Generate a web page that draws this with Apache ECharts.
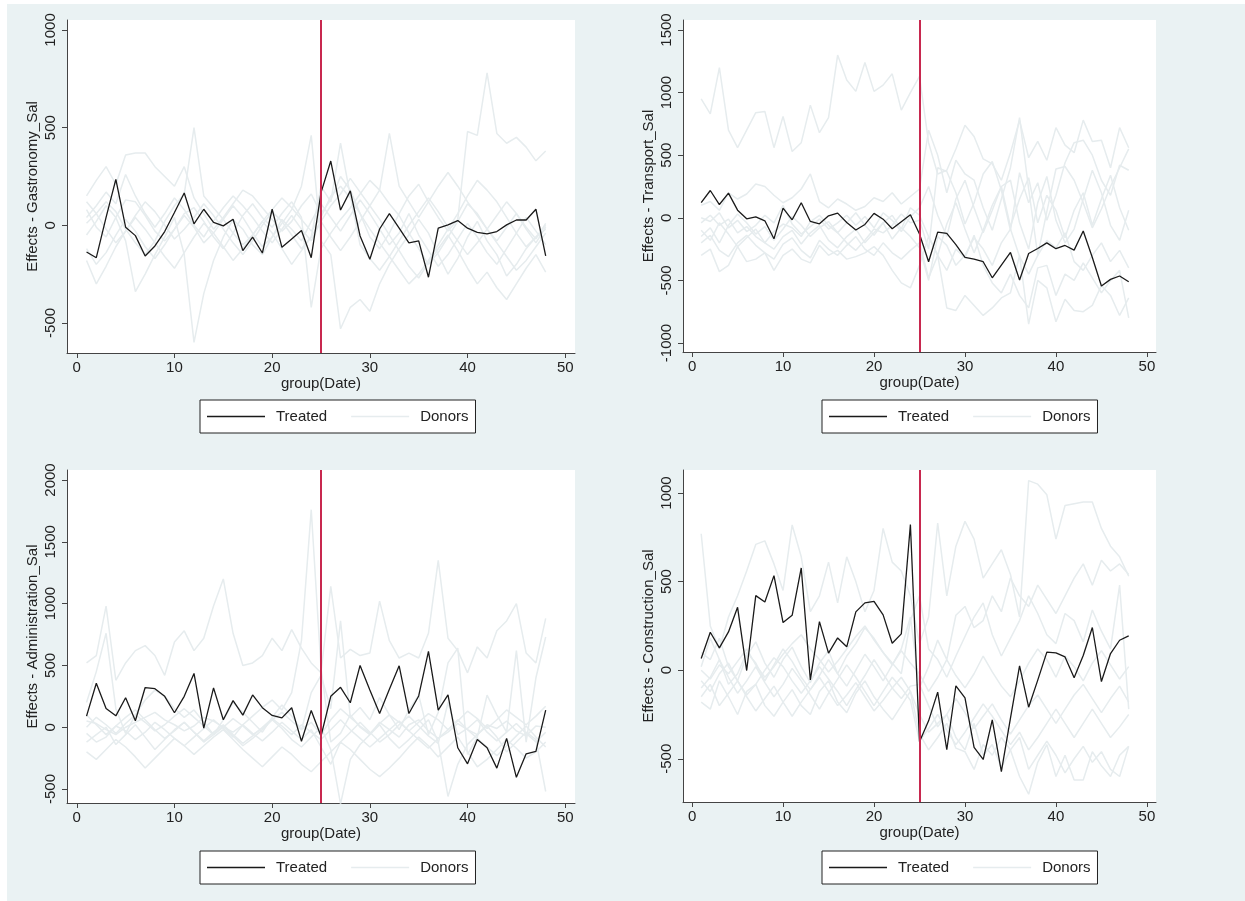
<!DOCTYPE html>
<html>
<head>
<meta charset="UTF-8">
<title>Effects - Treated vs Donors</title>
<script src="https://cdn.jsdelivr.net/npm/echarts@6/dist/echarts.min.js" type="text/javascript"></script>
<style type="text/css">
    html,body{
        margin:0;
        padding:0;
        height:100%;
        background:#fff;
    }
</style>
</head>
<body>
<div id="container" style="width:1245px;height:901px"></div>
<script type="text/javascript">

	// x = group(Date), 1..48
	var dates = [];
	for (var i = 1; i <= 48; i++) dates.push(i);
	var xTicks = [0, 10, 20, 30, 40, 50];

	// --- Gastronomy ---
	var gastroTreated = [-137,-166,40,235,-10,-53,-157,-106,-32,65,165,7,82,15,-3,31,-130,-61,-142,82,-113,-70,-27,-166,167,329,78,176,-55,-174,-19,60,-15,-90,-80,-266,-15,2,24,-15,-36,-44,-32,2,27,27,82,-157];
	var gastroDonors = [
		[150,230,300,210,360,370,370,300,250,200,300,140,60,-20,40,110,180,150,90,30,-30,20,100,160,60,130,250,180,60,-60,-120,-40,60,150,210,120,40,-30,30,480,460,780,470,420,450,400,330,380],
		[-50,20,100,40,-80,-340,-250,-150,-60,40,-150,-600,-350,-180,-60,30,-20,-100,-150,-60,10,80,200,460,-80,-150,-530,-420,-380,-440,-300,-200,-120,-50,30,-40,-150,-250,-170,-60,20,-80,-150,-260,-200,-120,-60,-20],
		[80,-10,-60,40,130,120,50,-30,-80,-20,60,90,20,-60,-120,-40,50,110,40,-10,60,120,40,-420,-120,-40,30,90,160,230,180,110,50,-40,-120,-200,-140,-60,20,110,60,-20,-90,-160,-230,-180,-110,-40],
		[10,60,120,70,-20,-90,-150,-80,20,100,160,500,150,90,30,-40,-100,-50,20,80,140,90,30,-30,40,150,200,140,60,-20,-90,-160,-230,-300,-250,-180,-100,-20,60,150,230,180,120,40,-40,-110,-60,0],
		[-120,-200,-140,-50,30,-30,-110,-170,-100,-20,50,-10,-90,-40,30,100,40,-40,-110,-60,30,-20,-80,20,110,40,-30,50,130,60,-20,-100,-40,60,-50,-130,-210,-150,-70,10,-60,-140,-200,-120,-40,40,-30,-100],
		[-180,-300,-210,-110,-30,40,-20,-90,-160,-220,-140,-60,10,-40,-110,-180,-120,-50,20,-40,-120,-200,-130,-60,20,100,160,240,170,100,30,-50,-130,-210,-270,-190,-120,-50,-130,-220,-300,-240,-320,-380,-300,-220,-150,-240],
		[40,100,170,110,260,150,60,-10,60,140,80,0,-60,20,90,150,100,40,-30,-90,-20,50,-20,-80,20,-60,-130,-60,20,100,180,470,200,120,40,120,200,270,200,120,50,-20,-80,-10,60,-20,-90,-10],
		[120,60,-20,-90,-30,50,120,70,0,-70,-20,40,110,50,-20,-90,-150,-80,0,70,20,-50,-120,-60,200,120,420,150,-100,-170,-230,-160,-80,0,70,140,70,-10,-80,-150,-90,-20,50,120,60,-10,-70,10]
	];

	// --- Transport ---
	var transTreated = [122,218,106,197,61,-8,8,-24,-168,77,-16,120,-29,-48,16,37,-37,-98,-53,35,-11,-88,-32,24,-130,-351,-114,-125,-215,-317,-330,-351,-479,-378,-277,-497,-285,-245,-200,-247,-221,-258,-106,-317,-545,-492,-465,-511];
	var transDonors = [
		[950,830,1200,700,560,700,840,850,560,810,530,600,900,680,800,1300,1100,1010,1240,1010,1060,1150,860,1000,1130,600,350,380,550,740,650,470,430,300,520,780,480,610,460,720,580,520,780,610,620,400,720,560],
		[-300,-250,-430,-380,-230,-350,-330,-280,-420,-300,-250,-330,-360,-220,-300,-260,-330,-310,-280,-230,-300,-420,-520,-560,-380,-150,-300,-720,-740,-620,-700,-780,-720,-640,-600,-300,-850,-500,-560,-830,-650,-740,-750,-700,-540,-620,-780,-640],
		[100,130,60,200,150,190,270,250,180,120,160,230,350,130,80,150,110,60,90,160,130,200,110,170,230,700,500,200,460,350,300,80,-100,150,400,800,230,-300,50,390,410,300,120,-80,70,250,400,550],
		[-40,20,-60,-10,-120,-70,-150,-200,-110,-50,-80,-150,-30,20,-60,-120,-200,-260,-180,-90,-120,-60,30,-40,-20,-250,400,370,200,-50,120,350,450,220,-100,360,120,280,-20,180,440,600,620,500,300,180,420,380],
		[-200,-140,-260,-310,-200,-140,-220,-280,-330,-210,-160,-260,-320,-180,-250,-300,-220,-150,-250,-300,-200,-280,-330,-260,-200,-480,-300,-420,-250,-320,-140,-380,-520,-600,-450,-620,-720,-400,-380,-620,-450,-500,-360,-480,-600,-500,-420,-800],
		[0,-30,40,-80,-20,-110,-60,20,-40,100,-50,-130,-70,-10,-90,-40,20,-60,10,-80,40,-20,-110,10,80,250,20,-150,150,300,80,-120,60,250,-70,150,320,-40,180,60,-160,60,200,-60,150,340,80,-100],
		[-100,-180,-40,-130,-230,-160,-90,-200,-250,-150,-100,-210,-120,-60,-180,-240,-150,-90,-200,-120,-40,-170,-80,-150,-240,-500,-150,-220,-380,-300,-160,-250,-380,-200,-90,-310,-450,-300,-180,-240,-120,-350,-420,-300,-200,-350,-260,-400],
		[-150,-80,-200,-60,30,-40,-130,-70,-180,-90,10,-60,-150,-80,-30,-120,-40,40,-60,-140,-40,20,-90,80,20,-150,-300,-50,120,-90,-280,-100,100,250,300,-40,-250,120,330,-20,-200,-90,150,380,200,-60,-180,60]
	];

	// --- Administration ---
	var adminTreated = [90,356,152,92,239,52,321,312,250,117,250,435,-8,318,60,215,98,261,158,95,76,158,-114,136,-73,250,323,198,500,302,111,307,497,111,253,614,139,261,-166,-296,-100,-166,-331,-90,-405,-215,-196,139];
	var adminDonors = [
		[50,30,-20,-60,0,40,80,120,60,20,-30,10,80,50,0,-40,20,90,160,220,140,280,700,1760,480,-120,-50,100,0,-60,40,-20,-80,20,60,-30,-90,-40,30,-20,-60,20,-10,50,-30,-70,10,0],
		[520,580,980,380,520,620,660,580,420,690,780,620,720,980,1200,760,500,520,580,720,620,790,640,520,440,1140,560,630,580,600,1020,700,560,600,560,760,1350,720,620,440,650,560,780,860,1000,600,520,880],
		[200,450,760,150,-50,100,220,300,250,150,80,140,40,-60,60,200,120,40,-40,80,180,90,-20,280,420,150,860,80,160,60,240,100,-20,140,260,-60,120,520,640,-220,-80,260,100,-40,620,-120,400,730],
		[-120,-60,0,-140,-60,20,-80,-180,-100,-20,40,-40,-120,-60,10,-70,-150,-90,-20,60,-10,-100,-160,-80,0,-180,-620,-260,-140,-60,20,-90,-170,-100,-20,60,-120,-560,-300,-140,-60,10,-80,-200,-120,-40,-100,-520],
		[-200,-260,-180,-100,-160,-240,-330,-250,-170,-90,-150,-220,-150,-80,-20,-100,-180,-250,-320,-240,-160,-220,-300,-360,-280,-200,-120,-180,-260,-340,-400,-330,-250,-160,-80,-150,-240,-160,-80,-200,-320,-260,-180,-100,-170,-250,-200,-120],
		[0,80,20,-50,30,100,40,-30,20,90,150,80,10,-60,0,70,10,-60,-10,60,120,50,-20,40,-60,60,150,80,10,-50,30,100,40,-30,40,110,60,-20,50,130,70,-10,60,140,80,20,90,170],
		[100,20,-60,10,80,140,60,-20,-90,-30,40,-40,-110,-40,20,-60,-130,-70,0,70,10,-60,20,-40,-100,-20,60,-20,-90,-160,-90,-20,50,-30,-100,-170,-90,-20,60,-20,-90,-160,-230,-150,-70,10,-80,-160],
		[-50,-120,-80,10,-30,-100,-40,40,-20,-90,-150,-80,-10,60,-10,-80,20,-50,-110,-40,40,-30,-100,-20,-160,-300,-120,-40,40,-40,-120,-60,20,90,10,-70,-130,200,-60,-10,60,-40,-110,-40,30,-50,-120,-40]
	];

	// --- Construction ---
	var constrTreated = [66,214,126,216,355,-2,421,385,534,269,310,577,-55,274,96,182,132,329,380,389,312,152,205,822,-404,-286,-124,-449,-88,-156,-436,-504,-280,-572,-270,24,-209,-56,102,98,75,-43,83,241,-64,94,169,194];
	var constrDonors = [
		[770,250,120,300,420,560,710,730,600,450,820,640,330,420,610,380,640,500,330,450,800,610,560,420,150,300,830,420,700,840,740,520,600,680,540,300,1070,1050,990,740,930,940,950,950,800,700,640,530],
		[-180,-220,-60,-150,-250,-120,-80,-200,-260,-180,-110,-200,-250,-120,-60,-180,-240,-130,-60,-150,-220,-280,-200,-120,-360,-450,-380,-300,-440,-460,-560,-420,-480,-380,-450,-600,-700,-520,-420,-600,-480,-620,-620,-460,-540,-600,-480,-430],
		[100,60,180,20,-60,80,160,40,-40,60,130,20,-70,40,110,-20,80,150,240,180,100,30,120,300,-100,20,170,60,310,360,240,280,420,330,520,420,360,480,400,320,420,520,600,480,620,560,600,540],
		[-60,-120,-20,40,-60,-140,-80,0,70,20,-60,-130,-60,20,-50,-120,-200,-110,-30,60,-20,-100,-160,-90,-80,-200,-320,-250,-160,-240,-330,-260,-190,-280,-360,-280,-200,-140,-220,-300,-220,-140,-80,-160,-240,-160,-90,-180],
		[20,180,60,-80,-20,100,40,-60,30,120,50,-40,-110,-30,60,-20,-90,0,90,20,-60,30,110,40,-20,-120,-40,60,-30,-100,-20,80,-10,-90,-150,-60,40,120,60,-40,80,20,-60,40,110,30,-50,20],
		[-100,-40,60,-40,-130,-60,20,-70,-150,-80,10,-60,-140,-220,-130,-50,30,-40,-120,-200,-120,-40,-100,-170,-400,-330,-250,-340,-420,-350,-270,-190,-260,-340,-420,-350,-450,-380,-300,-220,-300,-380,-300,-220,-300,-380,-320,-250],
		[0,-50,30,-20,50,120,30,-40,20,90,150,200,120,60,-10,50,120,190,250,170,100,40,-20,280,420,120,60,-40,80,190,300,380,200,80,180,280,420,320,200,150,320,280,160,340,220,120,480,-220],
		[-150,-80,-200,-130,-60,-150,-230,-160,-90,-180,-260,-180,-110,-40,-120,-200,-140,-70,-150,-230,-170,-100,-40,-120,-250,-350,-300,-250,-380,-450,-300,-480,-420,-550,-450,-380,-560,-480,-400,-480,-580,-500,-430,-520,-460,-560,-600,-430]
	];

	var panels = [
		{ name: 'Effects - Gastronomy_Sal', treated: gastroTreated, donors: gastroDonors, ymin: -654, ymax: 1051, yticks: [-500, 0, 500, 1000],
		  grid: { left: 67, top: 20, width: 508, height: 333 }, legend: { left: 200, top: 400 } },
		{ name: 'Effects - Transport_Sal', treated: transTreated, donors: transDonors, ymin: -1072, ymax: 1580, yticks: [-1000, -500, 0, 500, 1000, 1500],
		  grid: { left: 683, top: 20, width: 473, height: 332 }, legend: { left: 822, top: 400 } },
		{ name: 'Effects - Administration_Sal', treated: adminTreated, donors: adminDonors, ymin: -613, ymax: 2081, yticks: [-500, 0, 500, 1000, 1500, 2000],
		  grid: { left: 67, top: 470, width: 508, height: 333 }, legend: { left: 200, top: 851 } },
		{ name: 'Effects - Construction_Sal', treated: constrTreated, donors: constrDonors, ymin: -744, ymax: 1130, yticks: [-500, 0, 500, 1000],
		  grid: { left: 683, top: 470, width: 473, height: 332 }, legend: { left: 822, top: 851 } }
	];

	var FONT = 'Liberation Sans';
	var TXT = '#222';
	var AXIS = '#444';
	var DONOR = '#e6ecee';
	var TREATED = '#1a1a1a';

	function pairs(vals) {
		return vals.map(function (v, i) { return [dates[i], v]; });
	}
	function plain(v) { return String(v); }

	var grids = [], xAxes = [], yAxes = [], legends = [], series = [];
	panels.forEach(function (p, k) {
		grids.push({ left: p.grid.left, top: p.grid.top, width: p.grid.width, height: p.grid.height,
			show: true, backgroundColor: '#fff', borderWidth: 0 });
		xAxes.push({
			gridIndex: k, type: 'value', min: -1, max: 51,
			name: 'group(Date)', nameLocation: 'middle', nameGap: 23,
			nameTextStyle: { fontFamily: FONT, fontSize: 15, color: TXT },
			axisLine: { show: true, onZero: false, lineStyle: { color: AXIS, width: 1 } },
			axisTick: { show: true, length: 5, customValues: xTicks, lineStyle: { color: AXIS } },
			axisLabel: { customValues: xTicks, margin: 7, formatter: plain, fontFamily: FONT, fontSize: 15, color: TXT },
			splitLine: { show: false }
		});
		yAxes.push({
			gridIndex: k, type: 'value', min: p.ymin, max: p.ymax,
			name: p.name, nameLocation: 'middle', nameGap: 27,
			nameTextStyle: { fontFamily: FONT, fontSize: 15, color: TXT },
			axisLine: { show: true, onZero: false, lineStyle: { color: AXIS, width: 1 } },
			axisTick: { show: true, length: 5, customValues: p.yticks, lineStyle: { color: AXIS } },
			axisLabel: { customValues: p.yticks, rotate: 90, margin: 9, formatter: plain, fontFamily: FONT, fontSize: 15, color: TXT },
			splitLine: { show: false }
		});
		legends.push({
			left: p.legend.left, top: p.legend.top,
			data: [
				{ name: 'Treated', icon: 'rect', itemStyle: { color: TREATED } },
				{ name: 'Donors', icon: 'rect', itemStyle: { color: DONOR } }
			],
			selectedMode: false,
			backgroundColor: '#fff', borderColor: '#222', borderWidth: 1, borderRadius: 0,
			padding: [8, 7, 8, 7], itemWidth: 58, itemHeight: 1.4, itemGap: 24,
			textStyle: { fontFamily: FONT, fontSize: 15, lineHeight: 17, color: TXT, padding: [0, 0, 0, 6] }
		});
		p.donors.forEach(function (d) {
			series.push({
				name: 'Donors', type: 'line', xAxisIndex: k, yAxisIndex: k,
				data: pairs(d), symbol: 'none', silent: true, z: 2,
				lineStyle: { color: DONOR, width: 1.5 }, itemStyle: { color: DONOR }
			});
		});
		series.push({
			name: 'Treated', type: 'line', xAxisIndex: k, yAxisIndex: k,
			data: pairs(p.treated), symbol: 'none', silent: true, z: 4,
			lineStyle: { color: TREATED, width: 1.3 }, itemStyle: { color: TREATED },
			markLine: {
				silent: true, symbol: ['none', 'none'], animation: false,
				label: { show: false },
				lineStyle: { color: '#c8284f', width: 2, type: 'solid' },
				data: [{ xAxis: 25 }]
			}
		});
	});

	var chart = echarts.init(document.getElementById('container'));
	var option = {
		animation: false,
		backgroundColor: '#eaf2f3',
		graphic: [
			{ type: 'rect', left: 0, top: 0, shape: { width: 7, height: 901 }, style: { fill: '#fff' }, z: 100 },
			{ type: 'rect', left: 0, top: 0, shape: { width: 1245, height: 4 }, style: { fill: '#fff' }, z: 100 }
		],
		grid: grids,
		xAxis: xAxes,
		yAxis: yAxes,
		legend: legends,
		series: series
	};
	chart.setOption(option);
</script>
</body>
</html>
